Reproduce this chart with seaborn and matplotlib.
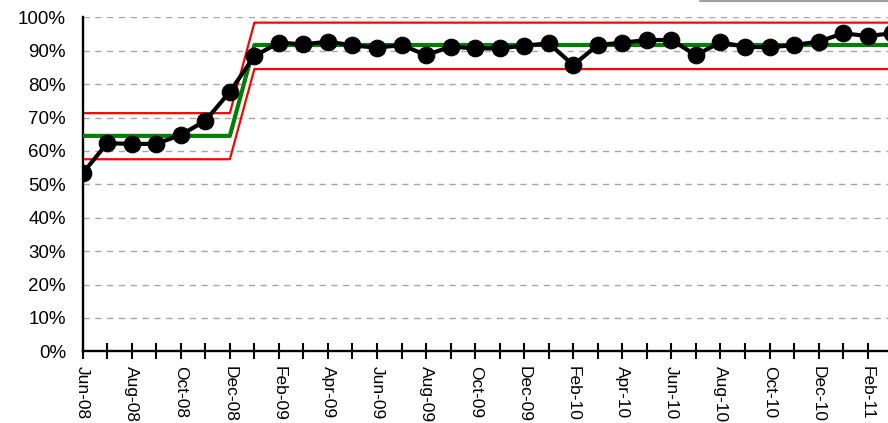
import matplotlib
matplotlib.use("Agg")
import matplotlib.pyplot as plt
import seaborn as sns
import pandas as pd
import numpy as np
from matplotlib.lines import Line2D
from matplotlib.ticker import PercentFormatter

months = ["Jun-08", "Jul-08", "Aug-08", "Sep-08", "Oct-08", "Nov-08", "Dec-08",
          "Jan-09", "Feb-09", "Mar-09", "Apr-09", "May-09", "Jun-09", "Jul-09",
          "Aug-09", "Sep-09", "Oct-09", "Nov-09", "Dec-09", "Jan-10", "Feb-10",
          "Mar-10", "Apr-10", "May-10", "Jun-10", "Jul-10", "Aug-10", "Sep-10",
          "Oct-10", "Nov-10", "Dec-10", "Jan-11", "Feb-11", "Mar-11"]
values = [0.533, 0.623, 0.621, 0.621, 0.648, 0.690, 0.777,
          0.884, 0.924, 0.919, 0.927, 0.916, 0.909, 0.917,
          0.887, 0.912, 0.907, 0.907, 0.915, 0.922, 0.857,
          0.917, 0.924, 0.932, 0.932, 0.887, 0.925, 0.912,
          0.910, 0.917, 0.927, 0.952, 0.944, 0.952]
phase_lengths = [7, 27]
phase_mean = [0.645, 0.917]
phase_ucl = [0.713, 0.984]
phase_lcl = [0.575, 0.845]

mean_line = np.repeat(phase_mean, phase_lengths)
ucl_line = np.repeat(phase_ucl, phase_lengths)
lcl_line = np.repeat(phase_lcl, phase_lengths)

df = pd.DataFrame({"idx": np.arange(len(months)), "month": months, "value": values,
                   "mean": mean_line, "ucl": ucl_line, "lcl": lcl_line})

sns.set_theme(style="white")
plt.rcParams["font.family"] = ["Liberation Sans", "DejaVu Sans"]

fig = plt.figure(figsize=(8.88, 4.23), dpi=100)
ax = fig.add_axes([0.0931, 0.1695, 0.9392, 0.7896])

sns.lineplot(data=df, x="idx", y="ucl", color="#ff0000", lw=1.6, ax=ax, zorder=2)
sns.lineplot(data=df, x="idx", y="lcl", color="#ff0000", lw=1.6, ax=ax, zorder=2)
sns.lineplot(data=df, x="idx", y="mean", color="#008000", lw=3, ax=ax, zorder=3)
sns.lineplot(data=df, x="idx", y="value", color="black", lw=3, marker="o",
             markersize=12, markeredgecolor="black", markerfacecolor="black",
             ax=ax, zorder=4)

ax.set_ylim(0, 1)
ax.set_yticks(np.arange(0, 1.001, 0.1))
ax.yaxis.set_major_formatter(PercentFormatter(1, decimals=0))
ax.set_xlim(0, 34)
ax.set_xticks(np.arange(len(months)))
ax.set_xticklabels([m if i % 2 == 0 else "" for i, m in enumerate(months)],
                   rotation=-90, ha="center", va="top", fontsize=12.5)
ax.set_xlabel("")
ax.set_ylabel("")

ax.set_axisbelow(True)
ax.yaxis.grid(True, color="#a6a6a6", linestyle=(0, (4.5, 4)), linewidth=1)
ax.xaxis.grid(False)

ax.tick_params(axis="x", direction="inout", length=11, width=1.5, color="black",
               pad=5, bottom=True, labelcolor="black")
ax.tick_params(axis="y", length=0, pad=12, labelsize=13.5, labelcolor="black")

for s in ["top", "right"]:
    ax.spines[s].set_visible(False)
for s in ["left", "bottom"]:
    ax.spines[s].set_color("black")
    ax.spines[s].set_linewidth(1.7)

fig.add_artist(Line2D([700 / 888, 1], [1 - 1 / 423, 1 - 1 / 423],
                      transform=fig.transFigure, color="#a0a0a0", lw=1.5))

fig.savefig("out.png", dpi=100)
